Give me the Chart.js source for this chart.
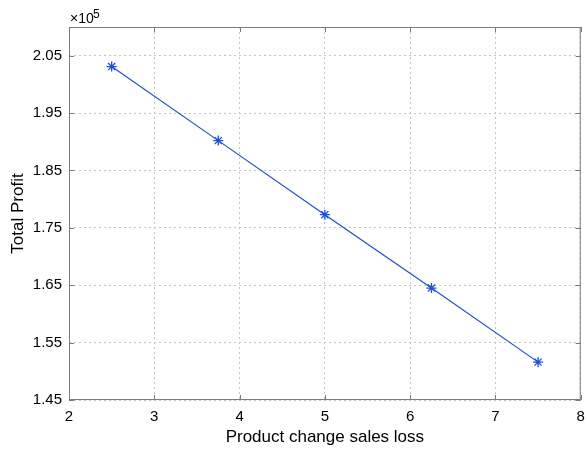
<!DOCTYPE html>
<html>
<head>
<meta charset="utf-8">
<script src="https://cdn.jsdelivr.net/npm/chart.js@4/dist/chart.umd.min.js"></script>
<style>
  html, body { margin: 0; padding: 0; background: #fff; }
  #wrap { width: 587px; height: 449px; }
</style>
</head>
<body>
<div id="wrap"><canvas id="myChart" width="587" height="449"></canvas></div>
<script>
var lossValues = [2.5, 3.75, 5, 6.25, 7.5];
var profitValues = [203100, 190200, 177300, 164500, 151600];
var yTicks = [145000, 155000, 165000, 175000, 185000, 195000, 205000];
var xTicks = [2, 3, 4, 5, 6, 7, 8];

var points = [];
for (var i = 0; i < lossValues.length; i++) {
    points.push({ x: lossValues[i], y: profitValues[i] });
}

var axisColor = "#7a7a7a";
var font = "Liberation Sans, Arial, sans-serif";

// box round the plot, inward ticks and the x10^5 exponent, MATLAB style
var matlabBox = {
    id: "matlabBox",
    afterDraw: function (chart) {
        var c = chart.ctx, a = chart.chartArea;
        var xs = chart.scales.x, ys = chart.scales.y;
        c.save();
        c.strokeStyle = axisColor;
        c.lineWidth = 1;
        c.strokeRect(a.left + 0.5, a.top + 0.5, a.right - a.left - 1, a.bottom - a.top - 1);
        c.beginPath();
        xTicks.forEach(function (t) {
            var px = Math.round(xs.getPixelForValue(t)) + 0.5;
            c.moveTo(px, a.bottom); c.lineTo(px, a.bottom - 5);
            c.moveTo(px, a.top); c.lineTo(px, a.top + 5);
        });
        yTicks.forEach(function (t) {
            var py = Math.round(ys.getPixelForValue(t)) + 0.5;
            c.moveTo(a.left, py); c.lineTo(a.left + 5, py);
            c.moveTo(a.right, py); c.lineTo(a.right - 5, py);
        });
        c.stroke();
        c.fillStyle = "#000";
        c.textBaseline = "alphabetic";
        c.font = "14px " + font;
        c.fillText("\u00d710", a.left + 1, a.top - 4);
        c.font = "12px " + font;
        c.fillText("5", a.left + 24, a.top - 9);
        c.restore();
    }
};

var myChart = document.getElementById("myChart").getContext("2d");
var lineChart = new Chart(myChart, {
    type: "line",
    data: {
        datasets: [{
            label: "Total Profit",
            data: points,
            borderColor: "#1a4ce8",
            backgroundColor: "#1a4ce8",
            borderWidth: 1.2,
            pointStyle: "star",
            pointRadius: 5,
            pointBorderWidth: 1.3,
            pointBorderColor: "#1a4ce8",
            tension: 0,
            fill: false
        }]
    },
    options: {
        responsive: false,
        animation: false,
        layout: { padding: { top: 27, right: 4, left: 0, bottom: 0 } },
        plugins: {
            legend: { display: false },
            tooltip: { enabled: false }
        },
        scales: {
            x: {
                type: "linear",
                min: 2,
                max: 8,
                afterBuildTicks: function (scale) {
                    scale.ticks = xTicks.map(function (v) { return { value: v }; });
                },
                afterFit: function (scale) {
                    scale.height = 49;
                    scale.paddingLeft = 0;
                    scale.paddingRight = 0;
                },
                ticks: { color: "#000", padding: 8, font: { family: font, size: 15 } },
                grid: { color: "#c4c4c4", drawTicks: false, lineWidth: 1 },
                border: { display: false, dash: [2, 3] },
                title: {
                    display: true,
                    text: "Product change sales loss",
                    color: "#000",
                    font: { family: font, size: 17 },
                    padding: { top: 0, bottom: 1 }
                }
            },
            y: {
                type: "linear",
                min: 145000,
                max: 210000,
                afterBuildTicks: function (scale) {
                    scale.ticks = yTicks.map(function (v) { return { value: v }; });
                },
                afterFit: function (scale) {
                    scale.width = 69;
                    scale.paddingTop = 0;
                    scale.paddingBottom = 0;
                },
                ticks: {
                    color: "#000",
                    padding: 7,
                    font: { family: font, size: 15 },
                    callback: function (v) { return (v / 100000).toFixed(2); }
                },
                grid: { color: "#c4c4c4", drawTicks: false, lineWidth: 1 },
                border: { display: false, dash: [2, 3] },
                title: {
                    display: true,
                    text: "Total Profit",
                    color: "#000",
                    font: { family: font, size: 17 },
                    padding: { top: 8, bottom: 0 }
                }
            }
        }
    },
    plugins: [matlabBox]
});
</script>
</body>
</html>
